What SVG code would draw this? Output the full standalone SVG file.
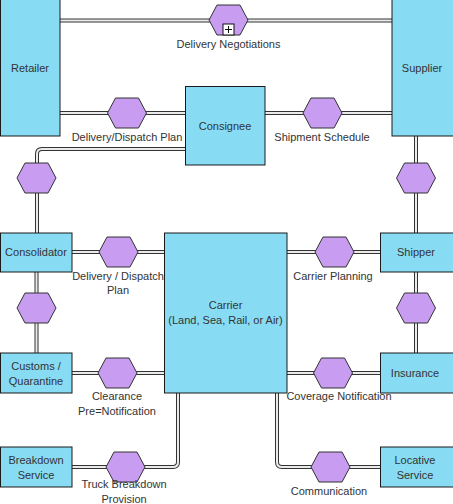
<svg xmlns="http://www.w3.org/2000/svg" xmlns:xlink="http://www.w3.org/1999/xlink" width="453" height="504" viewBox="0 0 453 504">
<style>
.node{fill:#87dcf3;stroke:#1a1a1a;stroke-width:1}
.hex{fill:#c89cf0;stroke:#333;stroke-width:1}
.po{fill:none;stroke:#333;stroke-width:4}
.pi{fill:none;stroke:#ebebeb;stroke-width:2}
text{font-family:"Liberation Sans",Arial,sans-serif;font-size:11px;fill:#333;text-anchor:middle}
</style>
<defs>
<path id="hx" d="M-19.5,0 L-11.5,-15 L11.5,-15 L19.5,0 L11.5,15 L-11.5,15 Z"/>
<g id="pipes">
<path d="M60,20.5 H392"/>
<path d="M60,113 H185"/>
<path d="M265,113 H392"/>
<path d="M185,149 H42 Q37,149 37,154 V233"/>
<path d="M416,136 V233"/>
<path d="M72,252 H164"/>
<path d="M287,252 H380"/>
<path d="M36.5,272 V353"/>
<path d="M416,272 V353"/>
<path d="M72,373 H164"/>
<path d="M287,373 H380"/>
<path d="M178,393 V462 Q178,467 173,467 H72"/>
<path d="M277,393 V462 Q277,467 282,467 H380"/>
</g>
</defs>
<g id="connectors">
<use xlink:href="#pipes" class="po"/>
<use xlink:href="#pipes" class="pi"/>
<g id="hexagons">
<use xlink:href="#hx" class="hex" x="228.5" y="20"/>
<use xlink:href="#hx" class="hex" x="127" y="113"/>
<use xlink:href="#hx" class="hex" x="322.5" y="113"/>
<use xlink:href="#hx" class="hex" x="36.5" y="178"/>
<use xlink:href="#hx" class="hex" x="416" y="178"/>
<use xlink:href="#hx" class="hex" x="118.5" y="252"/>
<use xlink:href="#hx" class="hex" x="334.5" y="252"/>
<use xlink:href="#hx" class="hex" x="36.5" y="308"/>
<use xlink:href="#hx" class="hex" x="416" y="308"/>
<use xlink:href="#hx" class="hex" x="117.5" y="373"/>
<use xlink:href="#hx" class="hex" x="333" y="373"/>
<use xlink:href="#hx" class="hex" x="125.5" y="467"/>
<use xlink:href="#hx" class="hex" x="330.5" y="467"/>
</g>
<g id="plus">
<rect x="223" y="24" width="11" height="11" fill="#fff" stroke="#111"/>
<path d="M225,29.5 H232 M228.5,26 V33" stroke="#111" stroke-width="1"/>
</g>
<g id="labels">
<text x="228.5" y="48">Delivery Negotiations</text>
<text x="127" y="141">Delivery/Dispatch Plan</text>
<text x="322" y="141">Shipment Schedule</text>
<text x="118" y="280">Delivery / Dispatch</text>
<text x="118" y="294">Plan</text>
<text x="333" y="280">Carrier Planning</text>
<text x="117" y="400">Clearance</text>
<text x="117" y="415">Pre=Notification</text>
<text x="339" y="400">Coverage Notification</text>
<text x="124" y="488">Truck Breakdown</text>
<text x="124" y="503">Provision</text>
<text x="329" y="495">Communication</text>
</g>
</g>
<g id="retailer"><rect class="node" x="0.5" y="-1" width="59.5" height="137"/><text x="30" y="72">Retailer</text></g>
<g id="supplier"><rect class="node" x="392" y="-1" width="62" height="137"/><text x="422" y="72">Supplier</text></g>
<g id="consignee"><rect class="node" x="185.5" y="86.5" width="79.5" height="78.5"/><text x="225" y="130">Consignee</text></g>
<g id="consolidator"><rect class="node" x="0.5" y="233" width="71.5" height="39"/><text x="36" y="256">Consolidator</text></g>
<g id="carrier"><rect class="node" x="164.5" y="233" width="122.5" height="160"/><text x="225.5" y="309">Carrier</text><text x="225.5" y="324">(Land, Sea, Rail, or Air)</text></g>
<g id="shipper"><rect class="node" x="380.5" y="233" width="73" height="39"/><text x="416" y="256">Shipper</text></g>
<g id="customs"><rect class="node" x="0.5" y="353" width="71.5" height="40"/><text x="36" y="370">Customs /</text><text x="36" y="385">Quarantine</text></g>
<g id="insurance"><rect class="node" x="380.5" y="353" width="73" height="40"/><text x="415" y="377">Insurance</text></g>
<g id="breakdown"><rect class="node" x="0.5" y="447" width="71.5" height="40"/><text x="36" y="464">Breakdown</text><text x="36" y="479">Service</text></g>
<g id="locative"><rect class="node" x="380.5" y="447" width="73" height="40"/><text x="415" y="464">Locative</text><text x="415" y="479">Service</text></g>
</svg>
